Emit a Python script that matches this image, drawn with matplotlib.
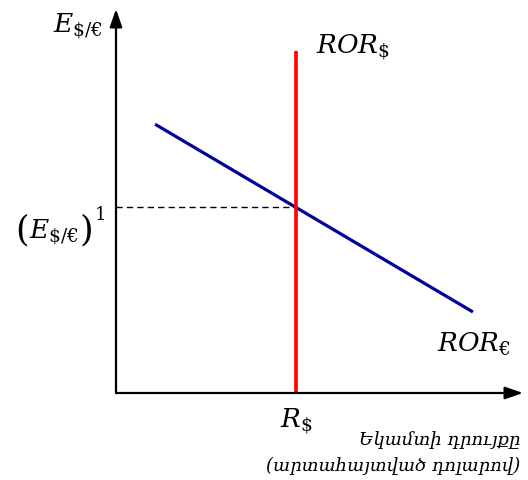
import numpy as np
import matplotlib
matplotlib.use('Agg')
import matplotlib.pyplot as plt

plt.rcParams['mathtext.fontset'] = 'dejavuserif'

# chart data (abstract units, origin at the axes corner)
axis_len_x = 10.0
axis_len_y = 10.0
r_dollar = 4.42          # position of the vertical ROR$ line
ror_dollar_top = 8.9
ror_euro_x = [0.96, 8.77]
ror_euro_y = [7.0, 2.11]

label_y_axis = r'$E_{\$/€}$'
label_e1 = r'$E_{\$/€}$'
label_e1_sup = r'$1$'
label_ror_dollar = r'$ROR_{\$}$'
label_ror_euro = r'$ROR_{€}$'
label_r_dollar = r'$R_{\$}$'
label_x_axis = ['Եկամտի դրույքը', '(արտահայտված դոլարով)']

# exchange rate where the two curves cross
e1 = ror_euro_y[0] + (ror_euro_y[1] - ror_euro_y[0]) * (r_dollar - ror_euro_x[0]) / (ror_euro_x[1] - ror_euro_x[0])

fig = plt.figure(figsize=(5.28, 4.81), dpi=100)
ax = fig.add_axes([116/528, 87/481, 407/528, 384/481])
ax.set_xlim(0, axis_len_x)
ax.set_ylim(0, axis_len_y)
ax.axis('off')

# axes with arrow heads
arrow = dict(arrowstyle='-|>,head_length=0.72,head_width=0.25', lw=1.6,
             color='black', mutation_scale=15, shrinkA=0, shrinkB=0)
ax.annotate('', xy=(axis_len_x, 0), xytext=(0, 0), arrowprops=arrow, annotation_clip=False)
ax.annotate('', xy=(0, axis_len_y), xytext=(0, 0), arrowprops=arrow, annotation_clip=False)

# curves
ax.plot([0, r_dollar], [e1, e1], color='black', lw=1.0, dashes=(4.5, 3), clip_on=False)
ax.plot(ror_euro_x, ror_euro_y, color='#0000a0', lw=2.3, solid_capstyle='butt', clip_on=False)
ax.plot([r_dollar, r_dollar], [0, ror_dollar_top], color='#ff0000', lw=2.6,
        solid_capstyle='butt', clip_on=False)

# labels
fs = 19
ax.text(-0.32, 9.43, label_y_axis, fontsize=fs, ha='right', va='baseline')

# (E)^1 built right to left so the brackets can be taller
yb = e1 - 0.77
t_sup = ax.text(-0.27, yb + 0.47, label_e1_sup, fontsize=13, ha='right', va='baseline')
t_rp = ax.annotate(')', xy=(0, yb), xycoords=(t_sup, 'data'), xytext=(-1, -2),
                   textcoords='offset points', fontsize=25, family='DejaVu Serif',
                   ha='right', va='baseline')
t_e = ax.annotate(label_e1, xy=(0, yb), xycoords=(t_rp, 'data'), xytext=(0, 0),
                  textcoords='offset points', fontsize=fs, ha='right', va='baseline')
ax.annotate('(', xy=(0, yb), xycoords=(t_e, 'data'), xytext=(0, -2),
            textcoords='offset points', fontsize=25, family='DejaVu Serif',
            ha='right', va='baseline')

ax.text(4.91, 8.88, label_ror_dollar, fontsize=fs, ha='left', va='baseline')
ax.text(9.7, 1.09, label_ror_euro, fontsize=fs, ha='right', va='baseline')
ax.text(r_dollar, -0.86, label_r_dollar, fontsize=fs, ha='center', va='baseline')
ax.text(9.93, -1.2, label_x_axis[0], fontsize=13, style='italic',
        family=['DejaVu Serif', 'DejaVu Sans'], ha='right', va='center')
ax.text(9.93, -1.87, label_x_axis[1], fontsize=13, style='italic',
        family=['DejaVu Serif', 'DejaVu Sans'], ha='right', va='center')

fig.savefig('out.png', dpi=100)
